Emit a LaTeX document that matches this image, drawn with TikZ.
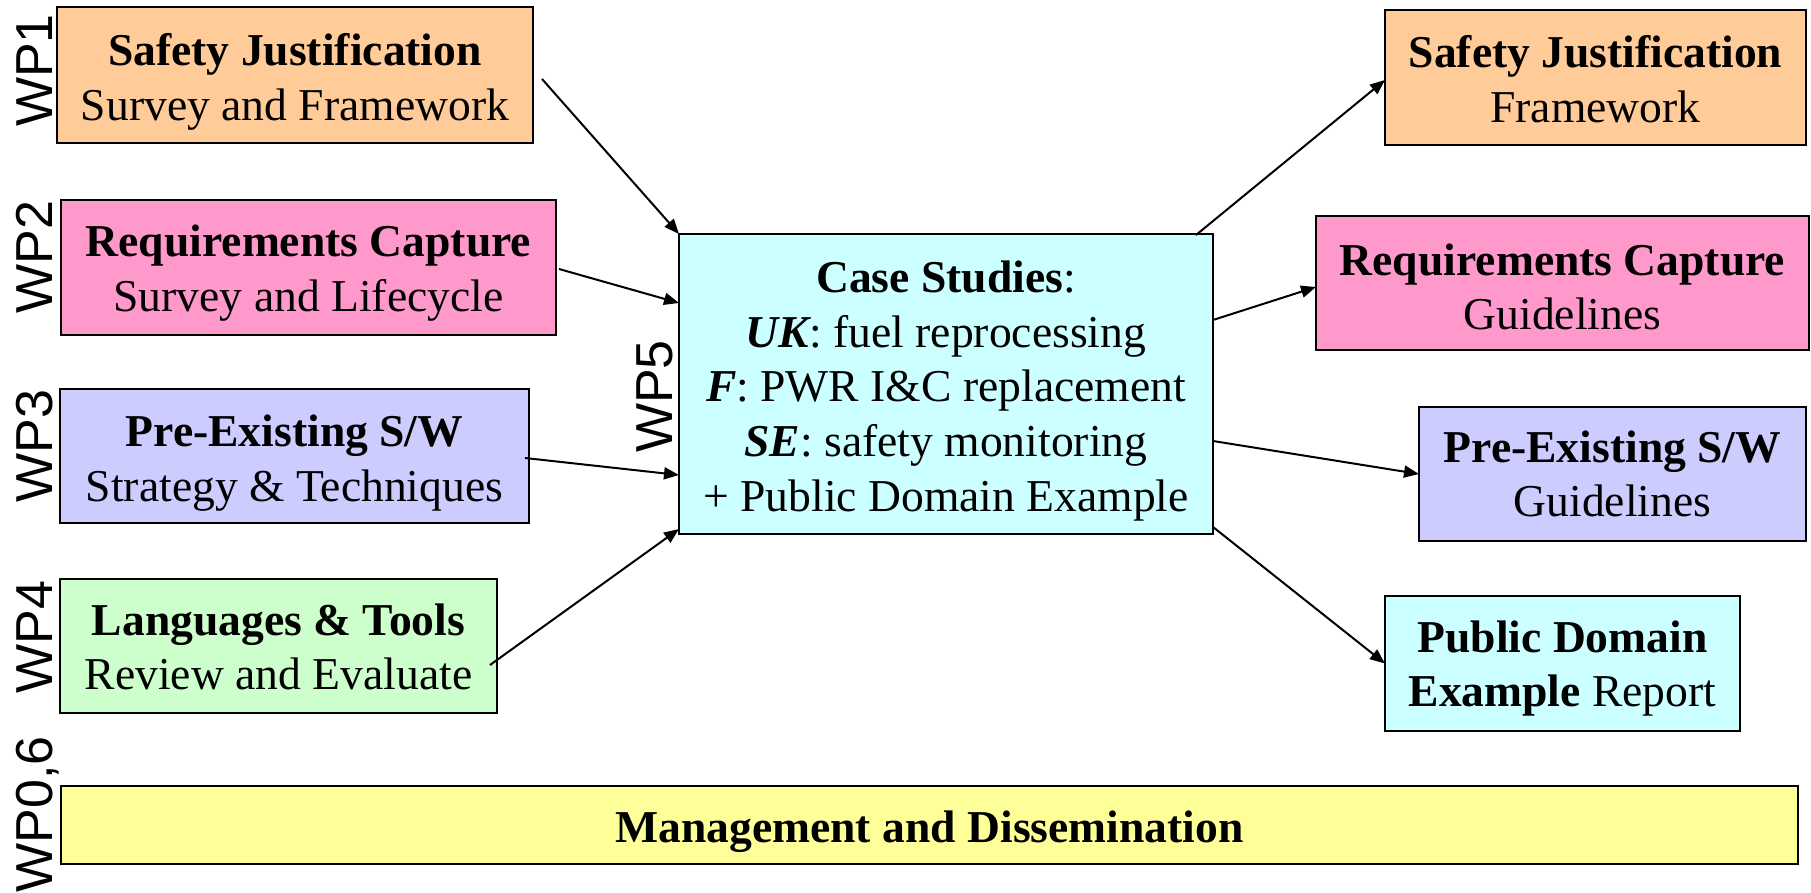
\documentclass[tikz,border=0pt]{standalone}
\usepackage{fontspec}
\setmainfont{Liberation Serif}
\newfontfamily\wpsans{Liberation Sans}
\usetikzlibrary{arrows.meta}

\definecolor{wporange}{HTML}{FFCC99}
\definecolor{wppink}{HTML}{FF99CC}
\definecolor{wplilac}{HTML}{CCCCFF}
\definecolor{wpgreen}{HTML}{CCFFCC}
\definecolor{wpcyan}{HTML}{CCFFFF}
\definecolor{wpyellow}{HTML}{FFFF99}

\begin{document}
\begin{tikzpicture}[x=0.5pt,y=-0.5pt,
  wpbox/.style={draw=black, line width=1.3pt, rectangle, inner sep=0pt,
    outer sep=0pt},
  wptext/.style={inner sep=0pt, align=center,
    font=\fontsize{22.8pt}{27.4pt}\selectfont},
  wplabel/.style={rotate=90, anchor=base, inner sep=0pt,
    font=\wpsans\fontsize{26pt}{30pt}\selectfont},
  flow/.style={line width=1pt, -{Triangle[length=7.5pt,width=6pt]}}]

% canvas
\fill[white] (0,0) rectangle (1811,893);
\useasboundingbox (0,0) rectangle (1811,893);

% work package inputs (left column)
\node[wpbox, fill=wporange, minimum width=238pt, minimum height=68pt]
  (sj1) at (295,75) {};
\node[wpbox, fill=wppink, minimum width=247.5pt, minimum height=67.5pt]
  (rc1) at (308.5,267.5) {};
\node[wpbox, fill=wplilac, minimum width=234.5pt, minimum height=67pt]
  (pe1) at (294.5,456) {};
\node[wpbox, fill=wpgreen, minimum width=218.5pt, minimum height=67pt]
  (lt1) at (278.5,646) {};

% case studies (centre)
\node[wpbox, fill=wpcyan, minimum width=267pt, minimum height=150pt]
  (cs) at (946,384) {};

% deliverables (right column)
\node[wpbox, fill=wporange, minimum width=210.5pt, minimum height=67.5pt]
  (sj2) at (1595.5,77.5) {};
\node[wpbox, fill=wppink, minimum width=246.5pt, minimum height=67pt]
  (rc2) at (1562.5,283) {};
\node[wpbox, fill=wplilac, minimum width=193.5pt, minimum height=67pt]
  (pe2) at (1612.5,474) {};
\node[wpbox, fill=wpcyan, minimum width=177.5pt, minimum height=67.5pt]
  (pd) at (1562.5,663.5) {};

% management bar
\node[wpbox, fill=wpyellow, minimum width=868.5pt, minimum height=39pt]
  (mg) at (929.5,825) {};

% box texts
\node[wptext] (tsj1) at ([yshift=-3.5pt]sj1.center)
  {{\bfseries Safety Justification}\\Survey and Framework};
\node[wptext] (trc1) at ([yshift=-3pt]rc1.center)
  {{\bfseries Requirements Capture}\\Survey and Lifecycle};
\node[wptext] (tpe1) at ([yshift=-3.5pt]pe1.center)
  {{\bfseries Pre-Existing S/W}\\Strategy \& Techniques};
\node[wptext] (tlt1) at ([yshift=-0.5pt]lt1.center)
  {{\bfseries Languages \& Tools}\\Review and Evaluate};
\node[wptext] (tcs) at ([yshift=-3.5pt]cs.center)
  {{\bfseries Case Studies}:\\
    {\bfseries\itshape UK}: fuel reprocessing\\
    {\bfseries\itshape F}: PWR I\&C replacement\\
    {\bfseries\itshape SE}: safety monitoring\\
    + Public Domain Example};
\node[wptext] (tsj2) at ([yshift=-1pt]sj2.center)
  {{\bfseries Safety Justification}\\Framework};
\node[wptext] (trc2) at ([yshift=-2pt]rc2.center)
  {{\bfseries Requirements Capture}\\Guidelines};
\node[wptext] (tpe2) at (pe2.center)
  {{\bfseries Pre-Existing S/W}\\Guidelines};
\node[wptext] (tpd) at ([yshift=-2.5pt]pd.center)
  {{\bfseries Public Domain}\\{\bfseries Example} Report};
\node[wptext] (tmg) at ([yshift=-3.5pt]mg.center)
  {\bfseries Management and Dissemination};

% work package labels
\node[wplabel] (l1) at (53,70.5) {WP1};
\node[wplabel] (l2) at (53,257) {WP2};
\node[wplabel] (l3) at (53,446) {WP3};
\node[wplabel] (l4) at (53,637) {WP4};
\node[wplabel] (l5) at (672,396.5) {WP5};
\node[wplabel] (l0) at (53,814.5) {WP0,6};

% inputs into the case studies
\draw[flow] ([shift={(9,4)}]sj1.east) -- (cs.north west);
\draw[flow] ([shift={(3,1.5)}]rc1.east) -- ([shift={(0,69)}]cs.north west);
\draw[flow] ([shift={(-4,2)}]pe1.east) -- ([shift={(0,241)}]cs.north west);
\draw[flow] ([shift={(-7,19)}]lt1.east) -- ([shift={(0,-5)}]cs.south west);

% outputs from the case studies
\draw[flow] ([shift={(-17,1)}]cs.north east) -- ([shift={(0,2.5)}]sj2.west);
\draw[flow] ([shift={(0,86)}]cs.north east) -- ([shift={(0,4)}]rc2.west);
\draw[flow] ([shift={(0,207)}]cs.north east) -- (pe2.west);
\draw[flow] ([shift={(0,-7)}]cs.south east) -- (pd.west);
\end{tikzpicture}
\end{document}
